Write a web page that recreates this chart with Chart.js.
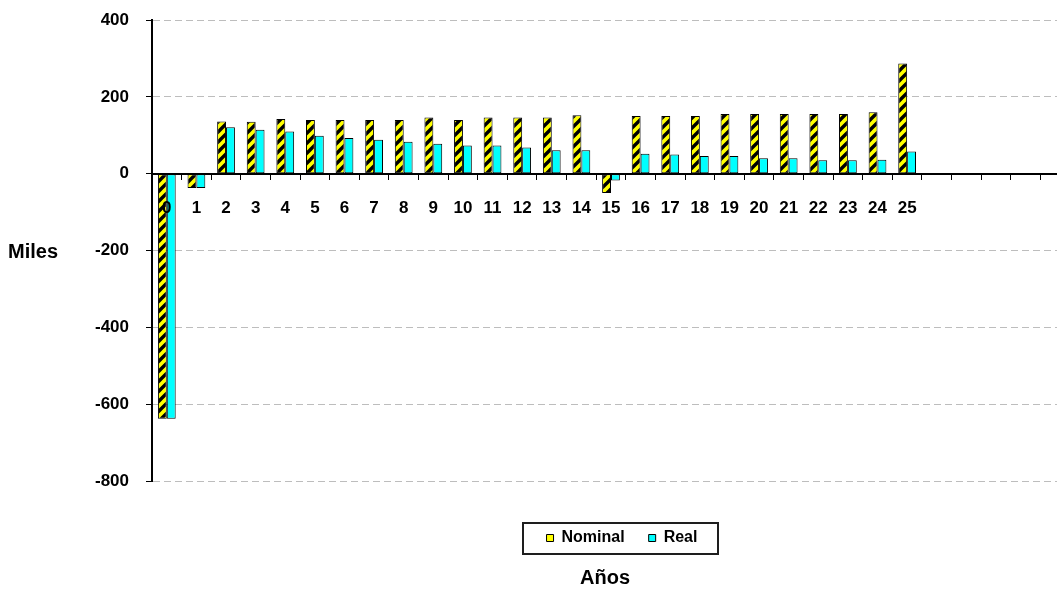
<!DOCTYPE html>
<html lang="es">
<head>
<meta charset="utf-8">
<title>Flujo de caja nominal y real</title>
<script src="https://cdn.jsdelivr.net/npm/chart.js@4.4.1/dist/chart.umd.min.js"></script>
<style>
  html, body { margin: 0; padding: 0; background: #ffffff; overflow: hidden; }
  canvas { display: block; }
</style>
</head>
<body>
<canvas id="chart" width="1075" height="590"></canvas>
<script>
// Años del proyecto; the axis keeps a few empty slots after year 25
const years = ['0', '1', '2', '3', '4', '5', '6', '7', '8', '9', '10', '11', '12',
  '13', '14', '15', '16', '17', '18', '19', '20', '21', '22', '23', '24', '25'];
const emptySlots = ['', '', '', '', ''];

// Flujo en miles
const nominal = [-638, -37, 136, 135, 142, 140, 140, 140, 140, 146, 140, 146, 146,
  146, 152, -50, 150, 150, 150, 155, 155, 155, 155, 155, 160, 287];
const real = [-638, -37, 121, 114, 110, 99, 93, 88, 83, 78, 73, 73, 68,
  61, 61, -18, 52, 50, 46, 46, 40, 40, 35, 35, 36, 58];

// Value axis ticks (miles)
const yTicks = [-800, -600, -400, -200, 0, 200, 400];

const seriesNames = ['Nominal', 'Real'];
const axisTitleX = 'Años';
const axisTitleY = 'Miles';

const FONT = '"Liberation Sans", Arial, sans-serif';
const YELLOW = '#ffff00';
const CYAN = '#00ffff';

// Yellow fill crossed by wide black upward diagonals
function stripePattern(ctx) {
  const s = 10;
  const tile = document.createElement('canvas');
  tile.width = s;
  tile.height = s;
  const t = tile.getContext('2d');
  t.fillStyle = YELLOW;
  t.fillRect(0, 0, s, s);
  t.strokeStyle = '#000000';
  t.lineWidth = 3.4;
  t.beginPath();
  for (let k = -1; k <= 1; k++) {
    t.moveTo(k * s - 2, s + 2);
    t.lineTo(k * s + s + 2, -2);
  }
  t.stroke();
  return ctx.createPattern(tile, 'repeat');
}

const canvas = document.getElementById('chart');
const ctx = canvas.getContext('2d');

const legendShift = 11;
const titleShift = -6;

// Legend frame, horizontal "Miles" label and small offsets of the bottom boxes
const decorations = {
  id: 'decorations',
  afterLayout(chart) {
    const lg = chart.legend;
    lg.left += legendShift;
    lg.right += legendShift;
    const tb = chart.titleBlock;
    tb.left += titleShift;
    tb.right += titleShift;
  },
  afterDraw(chart) {
    const c = chart.ctx;
    const lg = chart.legend;
    const pad = lg.options.labels.padding;
    const fontSize = lg.options.labels.font.size;
    const startX = (lg.left + pad + lg.right - lg.lineWidths[0]) / 2;
    const endX = startX + lg.lineWidths[0] - pad;
    const midY = lg.top + pad + lg._computeTitleHeight() + fontSize / 2;
    c.save();
    c.strokeStyle = '#1e1e1e';
    c.lineWidth = 2;
    c.strokeRect(Math.round(startX - 24), Math.round(midY - 15), Math.round(endX - startX + 44), 31);
    c.fillStyle = '#000000';
    c.font = 'bold 20px ' + FONT;
    c.textAlign = 'left';
    c.textBaseline = 'middle';
    c.fillText(axisTitleY, 8, chart.scales.y.getPixelForValue(-200) + 2);
    c.restore();
  }
};

const tickFont = { family: FONT, size: 17, weight: 'bold' };
const legendFont = { family: FONT, size: 16, weight: 'bold' };

new Chart(ctx, {
  type: 'bar',
  data: {
    labels: years.concat(emptySlots),
    datasets: [
      {
        label: seriesNames[0],
        data: nominal,
        backgroundColor: stripePattern(ctx),
        borderColor: '#000000',
        borderWidth: 1,
        borderSkipped: false
      },
      {
        label: seriesNames[1],
        data: real,
        backgroundColor: CYAN,
        borderColor: '#000000',
        borderWidth: 1,
        borderSkipped: false
      }
    ]
  },
  options: {
    responsive: false,
    animation: false,
    events: [],
    devicePixelRatio: 1,
    categoryPercentage: 0.6,
    barPercentage: 1.0,
    layout: { padding: { left: 0, top: 20, right: 5, bottom: 0 } },
    scales: {
      x: {
        type: 'category',
        position: { y: 0 },
        offset: true,
        grid: {
          display: true,
          offset: true,
          drawOnChartArea: false,
          drawTicks: true,
          tickLength: 5,
          tickColor: '#000000',
          tickWidth: 1,
          color: '#000000',
          z: 1
        },
        border: { display: true, color: '#000000', width: 2, z: 1 },
        ticks: {
          color: '#000000',
          font: tickFont,
          padding: 19,
          maxRotation: 0,
          autoSkip: false,
          z: 1
        }
      },
      y: {
        min: yTicks[0],
        max: yTicks[yTicks.length - 1],
        afterBuildTicks(scale) {
          scale.ticks = yTicks.map(v => ({ value: v }));
        },
        afterFit(scale) {
          scale.width = 152;
          scale.paddingTop = 0;
          scale.paddingBottom = 0;
        },
        grid: {
          color: '#bdbdbd',
          lineWidth: 1,
          tickLength: 6,
          tickColor: '#000000',
          tickWidth: 1
        },
        border: { display: true, color: '#000000', width: 2, dash: [7, 4] },
        ticks: {
          color: '#000000',
          font: tickFont,
          padding: 17
        }
      }
    },
    plugins: {
      tooltip: { enabled: false },
      legend: {
        position: 'bottom',
        fullSize: false,
        title: {
          display: true,
          text: '',
          font: { size: 10, lineHeight: 1 },
          padding: { top: 15, bottom: 0 }
        },
        labels: {
          color: '#000000',
          font: legendFont,
          boxWidth: 7,
          boxHeight: 7,
          padding: 24,
          generateLabels(chart) {
            const items = Chart.defaults.plugins.legend.labels.generateLabels(chart);
            const swatches = [YELLOW, CYAN];
            items.forEach((it, i) => {
              it.fillStyle = swatches[i];
              it.strokeStyle = '#000000';
              it.lineWidth = 1;
            });
            return items;
          }
        }
      },
      title: {
        display: true,
        position: 'bottom',
        fullSize: false,
        text: axisTitleX,
        color: '#000000',
        font: { family: FONT, size: 20, weight: 'bold', lineHeight: 1.2 },
        padding: { top: 10, bottom: 0 }
      }
    }
  },
  plugins: [decorations]
});
</script>
</body>
</html>
